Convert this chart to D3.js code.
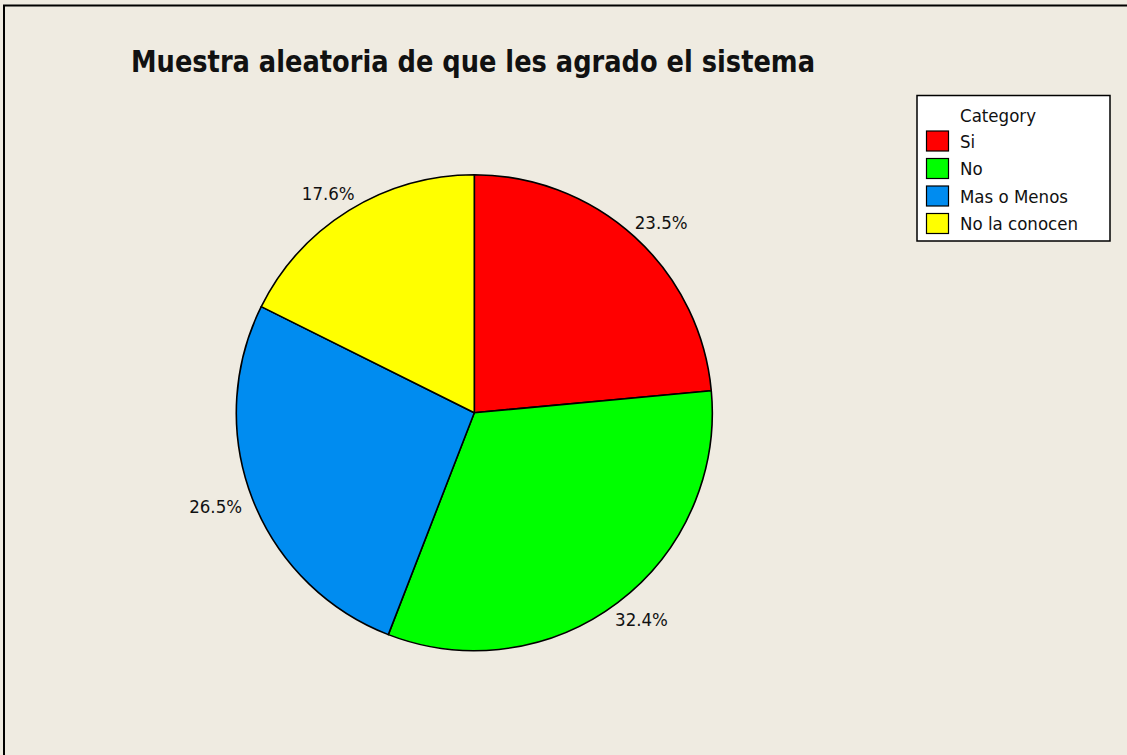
<!DOCTYPE html>
<html>
<head>
<meta charset="utf-8">
<script src="https://cdn.jsdelivr.net/npm/d3@7"></script>
<style>
  html, body { margin: 0; padding: 0; overflow: hidden; background: #efebe1; }
  svg { display: block; }
  svg text { font-family: "DejaVu Sans Condensed", "DejaVu Sans", sans-serif; fill: #111; }
</style>
</head>
<body>
<div id="chart"></div>
<script>
// chart data
var title = "Muestra aleatoria de que les agrado el sistema";
var categories = ["Si", "No", "Mas o Menos", "No la conocen"];
var counts = [8, 11, 9, 6];
var colors = ["#ff0000", "#00ff00", "#008cf0", "#ffff00"];

var width = 1127,
  height = 755;
var cx = 474.3,
  cy = 412.7,
  radius = 238;

var svg = d3
  .select("#chart")
  .append("svg")
  .attr("width", width)
  .attr("height", height);

// background
svg
  .append("rect")
  .attr("width", width)
  .attr("height", height)
  .attr("fill", "#efebe1");

// frame: only the left and top edges show in the picture
svg
  .append("path")
  .attr("d", "M4," + height + "V5.5H" + width)
  .attr("fill", "none")
  .attr("stroke", "#000")
  .attr("stroke-width", 2);

// title
var t = svg
  .append("text")
  .attr("x", 131)
  .attr("y", 71.5)
  .style("font-weight", "bold")
  .style("font-size", "30px")
  .text(title);
t.attr("textLength", 684).attr("lengthAdjust", "spacingAndGlyphs");

// pie
var total = d3.sum(counts);
var pie = d3.pie().sort(null).value((d) => d);
var arcs = pie(counts);
var arc = d3.arc().innerRadius(0).outerRadius(radius);

var g = svg.append("g").attr("transform", "translate(" + cx + "," + cy + ")");

g.selectAll("path")
  .data(arcs)
  .enter()
  .append("path")
  .attr("d", arc)
  .attr("fill", (d, i) => colors[i])
  .attr("stroke", "#000")
  .attr("stroke-width", 1.6)
  .attr("stroke-linejoin", "round");

// percent labels, just outside the rim
var labelR = radius + 13;
var fmt = d3.format(".1f");
g.selectAll("text.pct")
  .data(arcs)
  .enter()
  .append("text")
  .attr("class", "pct")
  .attr("text-anchor", "middle")
  .style("font-size", "18.5px")
  .text((d) => fmt((d.value / total) * 100) + "%")
  .each(function (d) {
    var a = (d.startAngle + d.endAngle) / 2;
    var s = Math.sin(a),
      c = Math.cos(a);
    var hw = this.getComputedTextLength() / 2;
    var x = labelR * s + hw * s;
    var ymid = -labelR * c - 7 * c;
    d3.select(this)
      .attr("x", x)
      .attr("y", ymid + 7);
  });

// legend
var lg = svg.append("g").attr("transform", "translate(917,95.5)");
lg.append("rect")
  .attr("width", 193)
  .attr("height", 145.5)
  .attr("fill", "#fff")
  .attr("stroke", "#000")
  .attr("stroke-width", 1.5);
lg.append("text")
  .attr("x", 43)
  .attr("y", 26)
  .style("font-size", "18.5px")
  .text("Category");

var items = lg
  .selectAll("g.item")
  .data(categories)
  .enter()
  .append("g")
  .attr("class", "item")
  .attr("transform", (d, i) => "translate(0," + (35.5 + i * 27.5) + ")");
items
  .append("rect")
  .attr("x", 9.5)
  .attr("y", 0)
  .attr("width", 22)
  .attr("height", 20)
  .attr("fill", (d, i) => colors[i])
  .attr("stroke", "#000")
  .attr("stroke-width", 1.2);
items
  .append("text")
  .attr("x", 43)
  .attr("y", 16.5)
  .style("font-size", "18.5px")
  .text((d) => d);
</script>
</body>
</html>
